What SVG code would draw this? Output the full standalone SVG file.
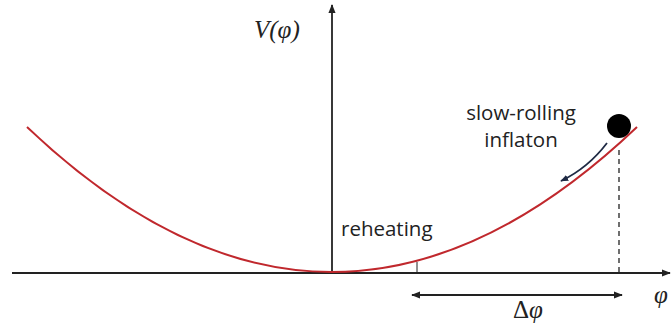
<svg xmlns="http://www.w3.org/2000/svg" width="671" height="327" viewBox="0 0 671 327">
<defs>
<style>
.ax{stroke:#222;stroke-width:1.8;fill:none}
.lbl{font-family:"Open Sans","Liberation Sans",sans-serif;font-size:20.5px;fill:#222}
.math{font-family:"Liberation Serif",serif;font-size:25px;fill:#222}
</style>
<marker id="ah" viewBox="0 0 10 10" refX="9" refY="5" markerWidth="9" markerHeight="9" markerUnits="userSpaceOnUse" orient="auto-start-reverse">
<path d="M0,1 L10,5 L0,9 Z" fill="#222"/>
</marker>
<marker id="ahn" viewBox="0 0 10 10" refX="9" refY="5" markerWidth="8" markerHeight="8" markerUnits="userSpaceOnUse" orient="auto">
<path d="M0,1 L10,5 L0,9 Z" fill="#1f2a44"/>
</marker>
</defs>
<rect width="671" height="327" fill="#fff"/>
<g id="axes">
<line class="ax" x1="12" y1="273" x2="670" y2="273" marker-end="url(#ah)"/>
<line class="ax" x1="332" y1="273" x2="332" y2="5" marker-end="url(#ah)"/>
</g>
<g id="potential">
<path d="M27,127 Q332,417 637,127" fill="none" stroke="#c0282d" stroke-width="2"/>
</g>
<g id="connectors">
<line x1="417" y1="262" x2="417" y2="273" stroke="#222" stroke-width="1"/>
<line x1="619" y1="150" x2="619" y2="273" stroke="#222" stroke-width="1.3" stroke-dasharray="5,4"/>
<line class="ax" x1="412" y1="295" x2="622" y2="295" stroke-width="1.5" marker-start="url(#ah)" marker-end="url(#ah)"/>
<path d="M607,143 Q588,168 561,181" fill="none" stroke="#1f2a44" stroke-width="1.8" marker-end="url(#ahn)"/>
</g>
<g id="ball"><circle cx="619" cy="126" r="12" fill="#000"/></g>
<g id="labels">
<text class="math" x="254" y="38" font-style="italic">V(φ)</text>
<text class="lbl" x="521" y="120" text-anchor="middle">slow-rolling</text>
<text class="lbl" x="521" y="147" text-anchor="middle">inflaton</text>
<text class="lbl" x="341" y="236">reheating</text>
<text class="math" x="513" y="318">Δ<tspan font-style="italic">φ</tspan></text>
<text class="math" x="654" y="303" font-style="italic">φ</text>
</g>
</svg>
